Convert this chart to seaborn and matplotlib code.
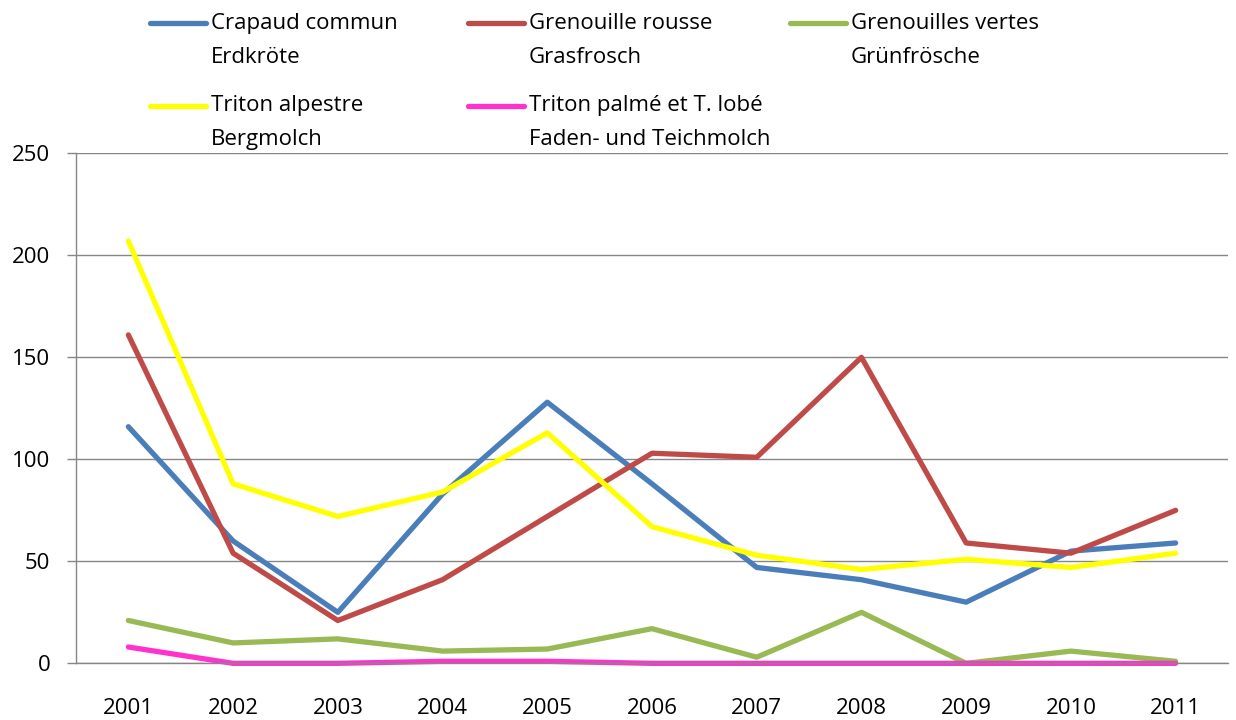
import numpy as np
import pandas as pd
import seaborn as sns
import matplotlib
matplotlib.use("Agg")
import matplotlib.pyplot as plt
from matplotlib.legend_handler import HandlerLine2D

# data
years = [2001, 2002, 2003, 2004, 2005, 2006, 2007, 2008, 2009, 2010, 2011]
crapaud = [116, 60, 25, 83, 128, 88, 47, 41, 30, 55, 59]
rousse = [161, 54, 21, 41, 72, 103, 101, 150, 59, 54, 75]
vertes = [21, 10, 12, 6, 7, 17, 3, 25, 0, 6, 1]
alpestre = [207, 88, 72, 84, 113, 67, 53, 46, 51, 47, 54]
palme = [8, 0, 0, 1, 1, 0, 0, 0, 0, 0, 0]

labels = ["Crapaud commun\nErdkröte",
          "Grenouille rousse\nGrasfrosch",
          "Grenouilles vertes\nGrünfrösche",
          "Triton alpestre\nBergmolch",
          "Triton palmé et T. lobé\nFaden- und Teichmolch"]
colors = ["#4A7EBB", "#BE4B48", "#98B954", "#FFFF00", "#FF33CC"]

series = [crapaud, rousse, vertes, alpestre, palme]
df = pd.concat([pd.DataFrame({"pos": np.arange(len(years)), "value": v, "species": lab})
                for v, lab in zip(series, labels)], ignore_index=True)

sns.set_theme(style="white")
plt.rcParams["font.family"] = ["Open Sans", "DejaVu Sans"]
plt.rcParams["font.size"] = 16
plt.rcParams["text.color"] = "black"

fig = plt.figure(figsize=(12.36, 7.2), dpi=100)
ax = fig.add_axes([0.0615, 0.0787, 0.932, 0.7083])

sns.lineplot(data=df, x="pos", y="value", hue="species", hue_order=labels,
             palette=colors, linewidth=3.8, legend=False, ax=ax,
             solid_capstyle="round", solid_joinstyle="round", clip_on=False)

grey = "#868686"
ax.set_xlim(-0.5, len(years) - 0.5)
ax.set_ylim(0, 250)
ax.set_yticks(np.arange(0, 251, 50))
ax.yaxis.grid(True, color=grey, linewidth=1.0)
ax.set_axisbelow(True)
ax.set_xticks(np.arange(len(years)))
ax.set_xticklabels([str(y) for y in years])
ax.set_xticks(np.arange(-0.5, len(years)), minor=True)
ax.tick_params(axis="x", which="major", length=0, pad=25, labelsize=16, labelcolor="black")
ax.tick_params(axis="x", which="minor", length=6, width=1.0, color=grey, direction="out")
ax.tick_params(axis="y", length=6.5, width=1.0, color=grey, pad=12, labelsize=16,
               labelcolor="black", left=True, direction="out")
ax.set_xlabel("")
ax.set_ylabel("")
for s in ["top", "right"]:
    ax.spines[s].set_visible(False)
for s in ["left", "bottom"]:
    ax.spines[s].set_color(grey)
    ax.spines[s].set_linewidth(1.0)


class FirstLineHandler(HandlerLine2D):
    # put the legend line next to the first line of a two-line label
    def __init__(self, shift, **kw):
        super().__init__(**kw)
        self.shift = shift

    def create_artists(self, legend, orig_handle, xdescent, ydescent, width, height, fontsize, trans):
        artists = super().create_artists(legend, orig_handle, xdescent, ydescent,
                                         width, height, fontsize, trans)
        for a in artists:
            a.set_ydata(np.asarray(a.get_ydata()) + self.shift)
        return artists


lines = ax.get_lines()[:len(labels)]
columns = [([0, 3], 150), ([1, 4], 468), ([2], 790)]
for idx, xpix in columns:
    leg = fig.legend([lines[i] for i in idx], [labels[i] for i in idx],
                     loc="upper left", bbox_to_anchor=(xpix / 1236, 1 - 13 / 720),
                     frameon=False, fontsize=16, handlelength=2.5, handletextpad=0.25,
                     borderpad=0, borderaxespad=0, labelspacing=1.24,
                     handler_map={matplotlib.lines.Line2D: FirstLineHandler(12.5)})
    for t in leg.get_texts():
        t.set_linespacing(1.8)
        t.set_color("black")

fig.savefig("out.png", dpi=100)
